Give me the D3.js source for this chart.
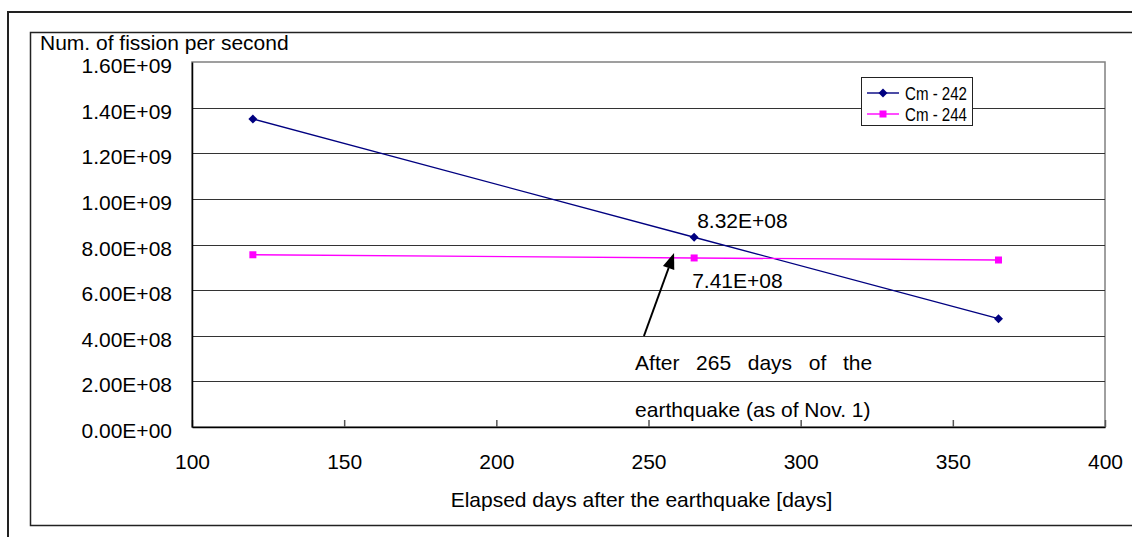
<!DOCTYPE html>
<html><head><meta charset="utf-8">
<script src="https://cdn.jsdelivr.net/npm/d3@7"></script>
<style>
html,body{margin:0;padding:0;background:#fff;overflow:hidden;}
svg{display:block;font-family:"Liberation Sans",Arial,sans-serif;}
</style></head>
<body>
<svg id="c" width="1132" height="537"></svg>
<script>
// ---- data ----
const days = [120, 265, 365];
const seriesNames = ["Cm-242", "Cm-244"];
const cm242 = [1.35e9, 8.32e8, 4.75e8];
const cm244 = [7.55e8, 7.41e8, 7.32e8];
const xTicks = [100, 150, 200, 250, 300, 350, 400];
const yTicks = [0, 2e8, 4e8, 6e8, 8e8, 1.0e9, 1.2e9, 1.4e9, 1.6e9];
const yTitle = "Num. of fission per second";
const xTitle = "Elapsed days after the earthquake [days]";
const noteLine1 = ["After", "265", "days", "of", "the"];
const noteLine2 = "earthquake (as of Nov. 1)";
const colors = ["#000080", "#ff00ff"];

const svg = d3.select("#c");
const FS = 21;
const fmt = v => {
  if (v === 0) return "0.00E+00";
  const e = Math.floor(Math.log10(v) + 1e-9);
  const m = v / Math.pow(10, e);
  return m.toFixed(2) + "E+" + String(e).padStart(2, "0");
};

// frames (open on the right, running off the picture)
svg.append("path").attr("d", "M1140,12L8,12L8,545")
  .attr("fill", "none").attr("stroke", "#222").attr("stroke-width", 2);
svg.append("path").attr("d", "M1140,32.5L30.5,32.5L30.5,525.5L1140,525.5")
  .attr("fill", "none").attr("stroke", "#222").attr("stroke-width", 1.5);

const x = d3.scaleLinear().domain([100, 400]).range([192, 1105]);
const y = d3.scaleLinear().domain([0, 1.6e9]).range([427, 62]);

// plot area border (gray)
svg.append("rect").attr("x", x(100)).attr("y", y(1.6e9))
  .attr("width", x(400) - x(100)).attr("height", y(0) - y(1.6e9))
  .attr("fill", "none").attr("stroke", "#808080").attr("stroke-width", 1.5);

// gridlines
svg.append("g").selectAll("line").data(yTicks.filter(v => v > 0 && v < 1.6e9)).join("line")
  .attr("x1", x(100)).attr("x2", x(400))
  .attr("y1", d => Math.round(y(d)) + 0.5).attr("y2", d => Math.round(y(d)) + 0.5)
  .attr("stroke", "#333").attr("stroke-width", 1.2);

// x axis
const gx = svg.append("g").attr("transform", `translate(0,${y(0)})`)
  .call(d3.axisBottom(x).tickValues(xTicks).tickSizeInner(-7).tickSizeOuter(0).tickFormat(d3.format("d")));
gx.select(".domain").attr("stroke", "#000").attr("stroke-width", 1.5);
gx.selectAll(".tick line").attr("stroke", "#555").attr("stroke-width", 1.5);
gx.selectAll(".tick text").attr("y", 42).attr("dy", null)
  .attr("font-size", FS).attr("font-family", "Liberation Sans, Arial, sans-serif").attr("fill", "#000");

// y axis
const gy = svg.append("g").attr("transform", `translate(${x(100)},0)`)
  .call(d3.axisLeft(y).tickValues(yTicks).tickSize(0).tickFormat(fmt));
gy.select(".domain").attr("stroke", "#000").attr("stroke-width", 1.5);
gy.selectAll(".tick text").attr("x", -20).attr("dy", 10.5)
  .attr("font-size", FS).attr("font-family", "Liberation Sans, Arial, sans-serif").attr("fill", "#000");

// titles
svg.append("text").attr("x", 40).attr("y", 50).attr("font-size", FS).text(yTitle);
svg.append("text").attr("x", (x(100) + x(400)) / 2 - 7).attr("y", 507)
  .attr("text-anchor", "middle").attr("font-size", FS).text(xTitle);

// series
const series = [cm242, cm244];
const line = d3.line().x((d, i) => x(days[i])).y(d => y(d));
series.forEach((vals, si) => {
  svg.append("path").datum(vals).attr("d", line)
    .attr("fill", "none").attr("stroke", colors[si]).attr("stroke-width", 1.4);
});
// markers
svg.append("g").selectAll("path").data(cm242).join("path")
  .attr("transform", (d, i) => `translate(${x(days[i])},${y(d)})`)
  .attr("d", "M0,-4.5L4.5,0L0,4.5L-4.5,0Z").attr("fill", colors[0]);
svg.append("g").selectAll("rect").data(cm244).join("rect")
  .attr("x", (d, i) => x(days[i]) - 3.5).attr("y", d => y(d) - 3.5)
  .attr("width", 7).attr("height", 7).attr("fill", colors[1]);

// value labels
svg.append("text").attr("x", x(days[1]) + 3).attr("y", y(cm242[1]) - 9)
  .attr("font-size", FS).text(fmt(cm242[1]));
svg.append("text").attr("x", x(days[1]) - 2).attr("y", y(cm244[1]) + 30)
  .attr("font-size", FS).text(fmt(cm244[1]));

// arrow annotation (data units)
const arrowFrom = [248.5, 0.399e9], arrowTo = [258.4, 0.763e9];
const x1 = x(arrowFrom[0]), y1 = y(arrowFrom[1]), x2 = x(arrowTo[0]), y2 = y(arrowTo[1]);
const ang = Math.atan2(y2 - y1, x2 - x1);
const hl = 16, hw = 6;
const bx = x2 - hl * Math.cos(ang), by = y2 - hl * Math.sin(ang);
svg.append("line").attr("x1", x1).attr("y1", y1).attr("x2", bx).attr("y2", by)
  .attr("stroke", "#000").attr("stroke-width", 2);
svg.append("path").attr("d",
  `M${x2},${y2}L${bx + hw * Math.sin(ang)},${by - hw * Math.cos(ang)}L${bx - hw * Math.sin(ang)},${by + hw * Math.cos(ang)}Z`)
  .attr("fill", "#000");

// note text (justified first line)
const noteX0 = x(245.6), noteX1 = noteX0 + 237;
svg.append("text").attr("x", noteX0).attr("y", 416.5).attr("font-size", FS).text(noteLine2);
const words = svg.append("g").selectAll("text").data(noteLine1).join("text")
  .attr("y", 369.5).attr("font-size", FS).text(d => d);
const widths = words.nodes().map(n => n.getComputedTextLength());
const gap = (noteX1 - noteX0 - d3.sum(widths)) / (noteLine1.length - 1);
let cx = noteX0;
words.each(function(d, i) { d3.select(this).attr("x", cx); cx += widths[i] + gap; });

// legend
const lg = svg.append("g");
lg.append("rect").attr("x", 861.5).attr("y", 77.5).attr("width", 111).attr("height", 48)
  .attr("fill", "#fff").attr("stroke", "#222").attr("stroke-width", 1);
seriesNames.forEach((nm, i) => {
  const ly = [93, 114][i];
  lg.append("line").attr("x1", 867).attr("x2", 899).attr("y1", ly).attr("y2", ly)
    .attr("stroke", colors[i]).attr("stroke-width", 1.4);
  if (i === 0) lg.append("path").attr("transform", `translate(883,${ly})`)
    .attr("d", "M0,-4.5L4.5,0L0,4.5L-4.5,0Z").attr("fill", colors[i]);
  else lg.append("rect").attr("x", 879.5).attr("y", ly - 3.5).attr("width", 7).attr("height", 7).attr("fill", colors[i]);
  lg.append("text").attr("x", 905).attr("y", ly + 6.5).attr("font-size", 18.5)
    .attr("textLength", 62).attr("lengthAdjust", "spacingAndGlyphs").text(nm.replace("-", " - "));
});
</script>
</body></html>
